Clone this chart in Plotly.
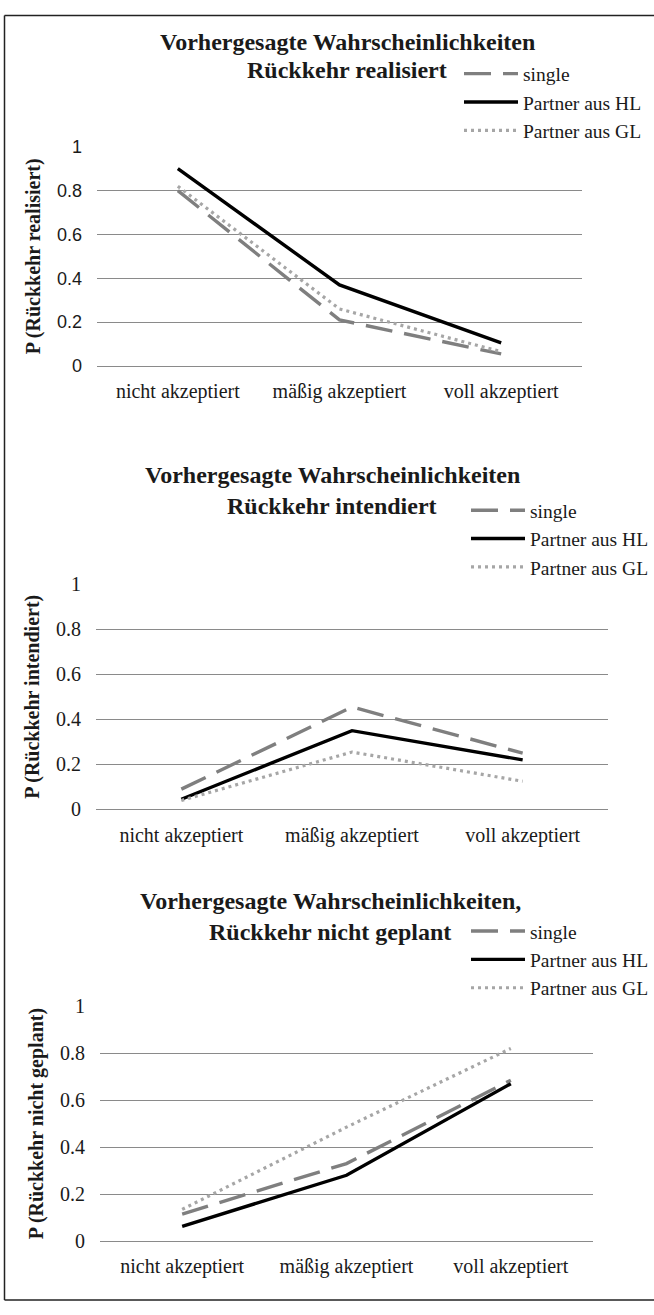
import plotly.graph_objects as go

W, H = 654, 1315

categories = ["nicht akzeptiert", "mäßig akzeptiert", "voll akzeptiert"]
series_names = ["single", "Partner aus HL", "Partner aus GL"]

realisiert_single = [0.80, 0.21, 0.055]
realisiert_hl = [0.90, 0.37, 0.105]
realisiert_gl = [0.82, 0.26, 0.065]

intendiert_single = [0.09, 0.455, 0.25]
intendiert_hl = [0.045, 0.35, 0.22]
intendiert_gl = [0.04, 0.255, 0.125]

nicht_geplant_single = [0.115, 0.33, 0.685]
nicht_geplant_hl = [0.063, 0.28, 0.67]
nicht_geplant_gl = [0.135, 0.485, 0.82]

y_tick_vals = [0, 0.2, 0.4, 0.6, 0.8, 1.0]
y_tick_text = ["0", "0.2", "0.4", "0.6", "0.8", "1"]

title_line1 = ["Vorhergesagte Wahrscheinlichkeiten",
               "Vorhergesagte Wahrscheinlichkeiten",
               "Vorhergesagte Wahrscheinlichkeiten,"]
title_line2 = ["Rückkehr realisiert", "Rückkehr intendiert", "Rückkehr nicht geplant"]
y_titles = ["P (Rückkehr realisiert)", "P (Rückkehr intendiert)", "P (Rückkehr nicht geplant)"]

panel_values = [
    [realisiert_single, realisiert_hl, realisiert_gl],
    [intendiert_single, intendiert_hl, intendiert_gl],
    [nicht_geplant_single, nicht_geplant_hl, nicht_geplant_gl],
]

SERIF = "Liberation Serif, Times New Roman, serif"
SANS = "Liberation Sans, Arial, sans-serif"
TXT = "#1a1a1a"
GRID = "#8a8a8a"

line_styles = [
    dict(color="#7f7f7f", width=3.4, dash="27px,12px"),
    dict(color="#000000", width=3.4),
    dict(color="#a6a6a6", width=3.2, dash="3px,4px"),
]

# layout in pixels
panels = [
    dict(x=(97, 582), y=(138, 361), t1=32, t2=60, tx=347, leg_x=459, leg_mid=93, tickfont=SANS, ticksize=18),
    dict(x=(96, 608), y=(583, 812), t1=472, t2=503, tx=332, leg_x=466, leg_mid=537, tickfont=SERIF, ticksize=20),
    dict(x=(100, 593), y=(1012, 1251), t1=905, t2=937, tx=330, leg_x=466, leg_mid=965, tickfont=SERIF, ticksize=20),
]


def px_x(v):
    return v / W


def px_y(v):
    return 1 - v / H


fig = go.Figure()
annotations = []
layout_axes = {}

for i, p in enumerate(panels):
    n = i + 1
    sfx = "" if n == 1 else str(n)
    leg = "legend" if n == 1 else f"legend{n}"
    for s, name in enumerate(series_names):
        fig.add_trace(go.Scatter(
            x=categories, y=panel_values[i][s], mode="lines", name=name,
            line=line_styles[s], xaxis=f"x{sfx}", yaxis=f"y{sfx}",
            legend=leg, hoverinfo="x+y+name",
        ))
    layout_axes[f"xaxis{sfx}"] = dict(
        domain=[px_x(p["x"][0]), px_x(p["x"][1])], anchor=f"y{sfx}",
        type="category", categoryorder="array", categoryarray=categories,
        range=[-0.5, 2.5], showgrid=False, zeroline=False,
        showline=True, linecolor=GRID, linewidth=1.2, ticks="",
        tickfont=dict(family=SERIF, size=20, color=TXT), ticklabelstandoff=7,
        fixedrange=True,
    )
    layout_axes[f"yaxis{sfx}"] = dict(
        domain=[px_y(p["y"][1]), px_y(p["y"][0])], anchor=f"x{sfx}",
        range=[0, 1.0005], tickvals=y_tick_vals, ticktext=y_tick_text,
        showgrid=True, gridcolor=GRID, gridwidth=1.2, zeroline=False,
        showline=False, ticks="",
        tickfont=dict(family=p["tickfont"], size=p["ticksize"], color=TXT),
        ticklabelstandoff=14,
        title=dict(text=f"<b>{y_titles[i]}</b>", font=dict(family=SERIF, size=20, color=TXT), standoff=10),
        fixedrange=True,
    )
    layout_axes[leg] = dict(
        x=px_x(p["leg_x"]), y=px_y(p["leg_mid"]), xanchor="left", yanchor="middle",
        font=dict(family=SERIF, size=19.5, color=TXT), bgcolor="rgba(0,0,0,0)",
        borderwidth=0, tracegroupgap=0, itemwidth=54,
    )
    annotations.append(dict(text=f"<b>{title_line1[i]}</b>", x=px_x(p["tx"]), y=px_y(p["t1"]),
                            xref="paper", yref="paper", showarrow=False, xanchor="center", yanchor="middle",
                            font=dict(family=SERIF, size=24, color=TXT)))
    annotations.append(dict(text=f"<b>{title_line2[i]}</b>", x=px_x(p["tx"]), y=px_y(p["t2"]),
                            xref="paper", yref="paper", showarrow=False, xanchor="center", yanchor="middle",
                            font=dict(family=SERIF, size=24, color=TXT)))

frame = dict(xref="paper", yref="paper", type="line", layer="above",
             line=dict(color="#222222", width=1.5))
shapes = [
    dict(frame, x0=px_x(4.5), x1=px_x(4.5), y0=px_y(4.5), y1=px_y(1311)),
    dict(frame, x0=px_x(4.5), x1=1, y0=px_y(4.5), y1=px_y(4.5)),
    dict(frame, x0=px_x(4.5), x1=1, y0=px_y(1311), y1=px_y(1311)),
]

fig.update_layout(
    width=W, height=H, margin=dict(l=0, r=0, t=0, b=0),
    paper_bgcolor="white", plot_bgcolor="white",
    showlegend=True, annotations=annotations, shapes=shapes,
    **layout_axes,
)

page_fix = (
    "var s=document.createElement('style');"
    "s.textContent='html,body{margin:0;padding:0;overflow:hidden;width:654px;height:1315px;}"
    "body>div{width:654px;height:1315px;overflow:hidden;}"
    ".plotly-graph-div,.svg-container{overflow:hidden !important;}"
    ".svg-container{display:block !important;}';"
    "document.head.appendChild(s);"
)

fig.write_html("out.html", config={"displayModeBar": False}, post_script=page_fix)
